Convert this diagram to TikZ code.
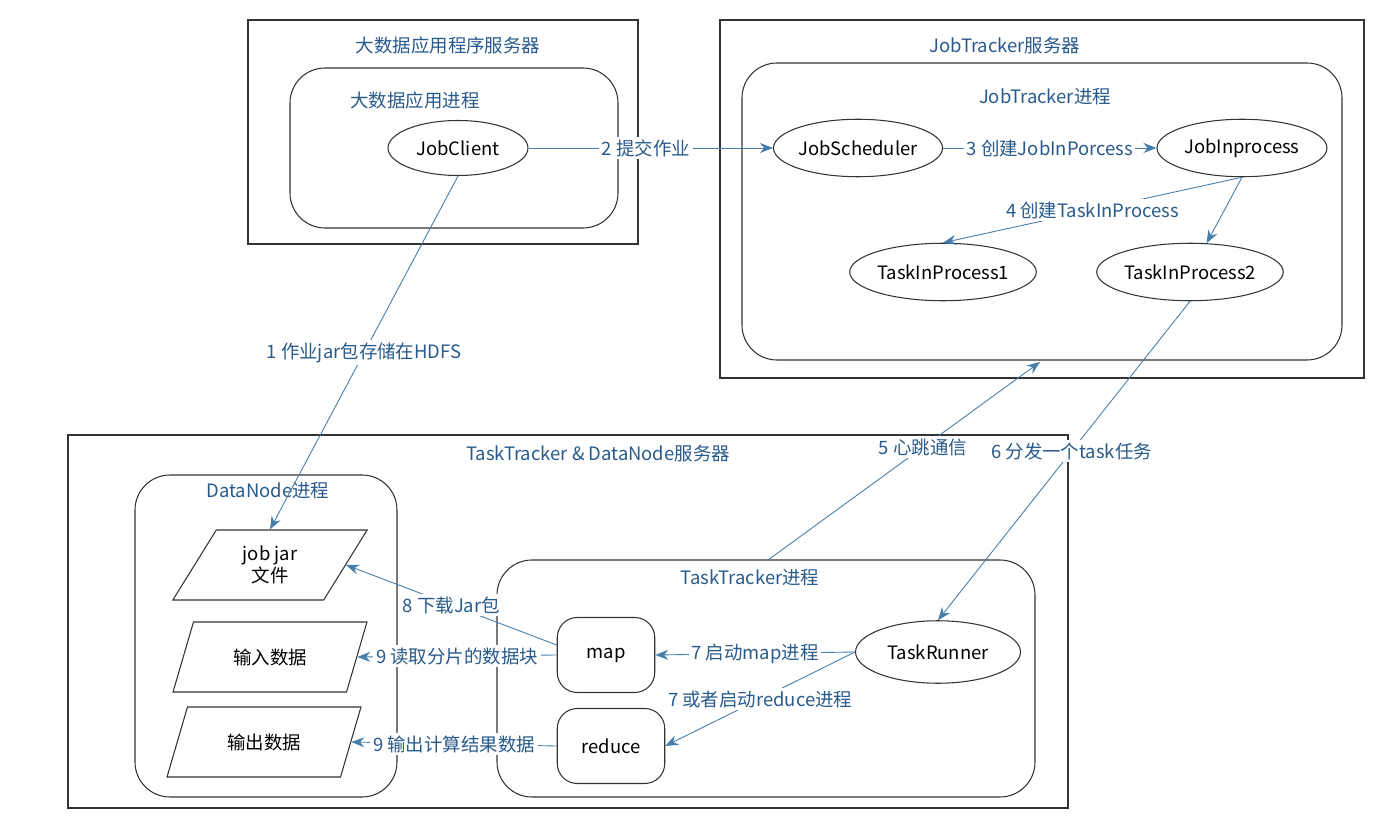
\documentclass[tikz,border=0pt]{standalone}
\usepackage{fontspec}
\setmainfont{Noto Sans CJK SC}
\usetikzlibrary{shapes.geometric, arrows.meta}
\definecolor{lineBlue}{RGB}{70,125,170}
\definecolor{txtBlue}{RGB}{40,90,140}
\begin{document}
\begin{tikzpicture}[x=0.02cm, y=-0.02cm,
    font=\fontsize{10.5}{12.5}\selectfont,
    server/.style={draw=black!80, line width=0.6pt},
    proc/.style={draw=black!80, line width=0.6pt, rounded corners=0.7cm},
    title/.style={text=txtBlue},
    oval/.style={ellipse, draw=black!80, line width=0.6pt, inner sep=0pt},
    para/.style={trapezium, trapezium left angle=60, trapezium right angle=120,
        trapezium stretches=true,
        draw=black!80, line width=0.6pt, minimum width=3.9cm, minimum height=1.4cm, align=center, inner sep=0pt},
    task/.style={draw=black!80, line width=0.6pt, rounded corners=0.4cm, minimum height=1.5cm, inner sep=0pt},
    arr/.style={-{Stealth[length=2.6mm,width=2mm]}, draw=lineBlue, line width=0.5pt},
    lab/.style={fill=white, text=txtBlue, inner sep=1.5pt}
]
\useasboundingbox (0,0) rectangle (1396,834);
% servers
\draw[server] (248,20) rectangle (638,244);
\node[title] (t1) at (448,45) {大数据应用程序服务器};
\draw[proc] (290,68) rectangle (618,228);
\node[title] (t2) at (415,100) {大数据应用进程};
\draw[server] (720,20) rectangle (1364,378);
\node[title] (t3) at (1005,45) {JobTracker服务器};
\draw[proc] (742,63) rectangle (1342,360);
\node[title] (t4) at (1045,97) {JobTracker进程};
\coordinate (jtb) at (1040,362);
\draw[server] (68,435) rectangle (1068,808);
\node[title] (t5) at (598,453) {TaskTracker \& DataNode服务器};
\draw[proc] (135,475) rectangle (397,797);
\node[title] (t6) at (268,491) {DataNode进程};
\draw[proc] (497,560) rectangle (1035,797);
\node[title] (t7) at (750,578) {TaskTracker进程};
\coordinate (ttp) at (768,560);
% nodes
\node[oval, minimum width=2.8cm, minimum height=1.1cm] (jc) at (458,148) {JobClient};
\node[oval, minimum width=3.2cm, minimum height=1.15cm] (js) at (858,148) {JobScheduler};
\node[oval, minimum width=3.4cm, minimum height=1.15cm] (ji) at (1242,148) {JobInprocess};
\node[oval, minimum width=3.6cm, minimum height=1.15cm] (tp1) at (943,272) {TaskInProcess1};
\node[oval, minimum width=3.6cm, minimum height=1.15cm] (tp2) at (1190,272) {TaskInProcess2};
\node[para] (jar) at (270,565) {job jar\\文件};
\node[para] (in) at (270,657) {输入数据};
\node[para] (out) at (264,742) {输出数据};
\node[task, minimum width=1.95cm] (map) at (606,655) {map};
\node[task, minimum width=2.15cm] (red) at (611,746) {reduce};
\node[oval, minimum width=3.3cm, minimum height=1.25cm] (tr) at (938,652) {TaskRunner};
% connectors
\draw[arr] (jc) -- node[lab, pos=0.48] {2 提交作业} (js);
\draw[arr] (js) -- node[lab, pos=0.5] {3 创建JobInPorcess} (ji);
\draw[arr] (ji.south) -- node[lab, pos=0.5] {4 创建TaskInProcess} (tp1.north);
\draw[arr] (ji.south) -- (tp2.60);
\draw[arr] (jc.south) -- node[lab, pos=0.5] {1 作业jar包存储在HDFS} (jar.north);
\draw[arr] (ttp) -- node[lab, pos=0.57] {5 心跳通信} (jtb);
\draw[arr] (tp2.south) -- node[lab, pos=0.47] {6 分发一个task任务} (tr.north);
\draw[arr] (map.west) ++(0,-10) coordinate (mw) (mw) -- node[lab, pos=0.5] {8 下载Jar包} (jar.east);
\draw[arr] (map.west) -- node[lab, pos=0.5] {9 读取分片的数据块} (in.east);
\draw[arr] (tr.west) -- node[lab, pos=0.5] {7 启动map进程} (map.east);
\draw[arr] (tr.west) -- node[lab, pos=0.5] {7 或者启动reduce进程} (red.east);
\draw[arr] (red.west) -- node[lab, pos=0.5] {9 输出计算结果数据} (out.east);
\end{tikzpicture}
\end{document}
